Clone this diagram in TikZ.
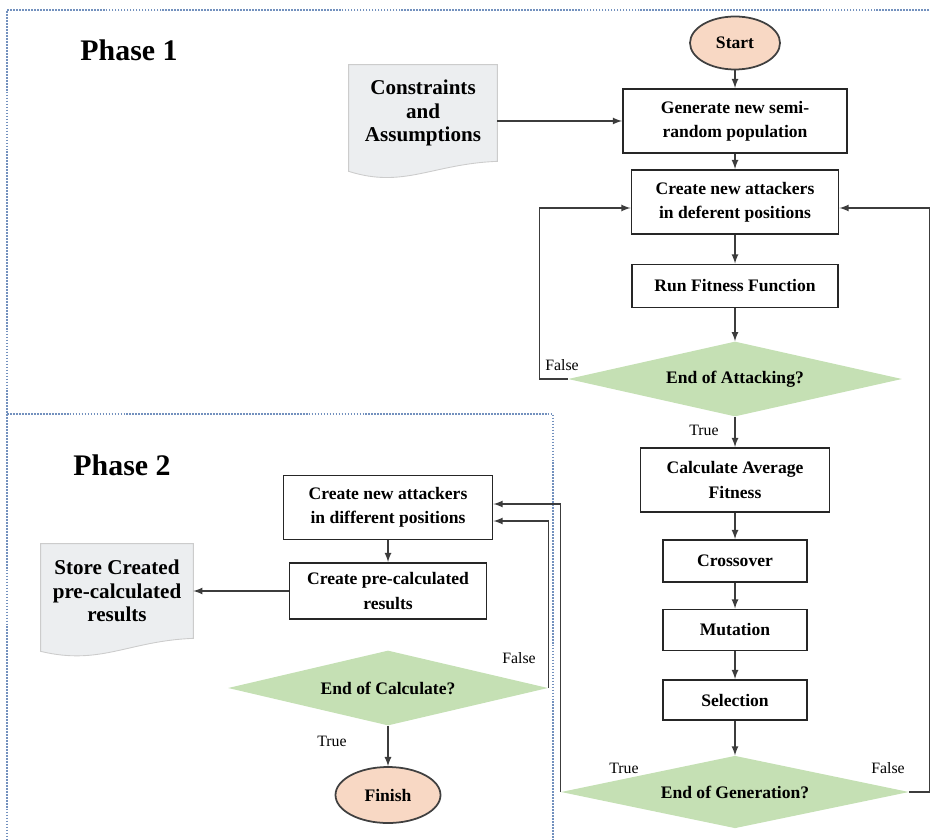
\documentclass[tikz,border=0pt]{standalone}
\usepackage{fontspec}
\setmainfont{Liberation Serif}
\usetikzlibrary{shapes.geometric, arrows.meta, positioning, calc, backgrounds}
\definecolor{peach}{RGB}{248,216,196}
\definecolor{dgreen}{RGB}{197,224,180}
\definecolor{docgray}{RGB}{236,238,240}
\definecolor{framecol}{RGB}{115,145,190}
\definecolor{linecol}{RGB}{60,60,60}
\tikzstyle{block} = [draw=black!85, line width=1.1pt, fill=white, rectangle, align=center, inner sep=1pt, font=\bfseries\fontsize{10}{13.7}\selectfont]
\tikzstyle{decision} = [diamond, fill=dgreen, aspect=4, inner sep=0pt, font=\bfseries\fontsize{10}{12}\selectfont]
\tikzstyle{term} = [ellipse, draw=black!75, line width=1pt, fill=peach, inner sep=0pt, font=\bfseries\fontsize{10}{12}\selectfont]
\tikzstyle{doc} = [rectangle, align=center, inner sep=0pt, font=\bfseries\fontsize{12}{13.4}\selectfont]
\tikzstyle{docshape} = [fill=docgray, draw=black!20, line width=0.5pt]
\tikzstyle{lbl} = [inner sep=0pt, font=\fontsize{9}{10}\selectfont]
\tikzstyle{phase} = [inner sep=0pt, font=\bfseries\fontsize{17}{20}\selectfont]
\tikzstyle{frame} = [draw=framecol, line width=0.6pt, dash pattern=on 1pt off 0.7pt]
\tikzstyle{conn} = [draw=linecol, line width=0.8pt, ->]

\begin{document}
\begin{tikzpicture}[node distance=1.6cm,>=latex]
    \useasboundingbox (0,0) rectangle (18.6,-16.78);
    % phase frames
    \draw[frame] (18.7,-0.2) -- (0.14,-0.2) -- (0.14,-16.9);
    \draw[frame] (0.14,-8.28) -- (11.06,-8.28) -- (11.06,-16.9);
    \node[phase] (ph1) at (2.58,-1.0) {Phase 1};
    \node[phase] (ph2) at (2.44,-9.3) {Phase 2};
    % phase 1
    \node[term, minimum width=1.8cm, minimum height=1.06cm] (start) at (14.7,-0.86) {Start};
    \node[block, below of=start, node distance=1.56cm, minimum width=4.48cm, minimum height=1.28cm] (gen) {Generate new semi-\\random population};
    \node[block, below of=gen, node distance=1.62cm, minimum width=4.14cm, minimum height=1.28cm] (create) {Create new attackers\\in deferent positions};
    \node[block, below of=create, node distance=1.68cm, minimum width=4.12cm, minimum height=0.86cm] (run) {Run Fitness Function};
    \node[decision, below of=run, node distance=1.86cm, minimum width=6.68cm, minimum height=1.5cm] (att) {End of Attacking?};
    \node[block, below of=att, node distance=2.02cm, minimum width=3.78cm, minimum height=1.28cm] (calc) {Calculate Average\\Fitness};
    \node[block, below of=calc, node distance=1.62cm, minimum width=2.88cm, minimum height=0.84cm] (cross) {Crossover};
    \node[block, below of=cross, node distance=1.38cm, minimum width=2.88cm, minimum height=0.82cm] (mut) {Mutation};
    \node[block, below of=mut, node distance=1.4cm, minimum width=2.88cm, minimum height=0.8cm] (sel) {Selection};
    \node[decision, below of=sel, node distance=1.84cm, minimum width=6.96cm, minimum height=1.45cm] (endgen) {End of Generation?};
    \node[doc, minimum width=2.96cm, minimum height=1.92cm] (cons) at (8.46,-2.26) {Constraints\\and\\Assumptions};
    % phase 2
    \node[block, minimum width=4.18cm, minimum height=1.28cm] (pcreate) at (7.76,-10.15) {Create new attackers\\in different positions};
    \node[block, below of=pcreate, node distance=1.67cm, minimum width=3.94cm, minimum height=1.12cm] (pcalc) {Create pre-calculated\\results};
    \node[decision, below of=pcalc, node distance=1.94cm, minimum width=6.4cm, minimum height=1.5cm] (endcalc) {End of Calculate?};
    \node[term, below of=endcalc, node distance=2.14cm, minimum width=2.1cm, minimum height=1.12cm] (finish) {Finish};
    \node[doc, left of=pcalc, node distance=5.42cm, minimum width=3.04cm, minimum height=1.88cm] (store) {Store Created\\pre-calculated\\results};
    \begin{pgfonlayer}{background}
        \draw[docshape] (cons.north west) -- (cons.north east) -- (cons.south east) .. controls ($(cons.south east)+(-1.3,-0.05)$) and ($(cons.south west)+(1.1,-0.55)$) .. ($(cons.south west)+(0,-0.2)$) -- cycle;
        \draw[docshape] (store.north west) -- (store.north east) -- (store.south east) .. controls ($(store.south east)+(-1.3,-0.05)$) and ($(store.south west)+(1.2,-0.55)$) .. ($(store.south west)+(0,-0.26)$) -- cycle;
    \end{pgfonlayer}
    % labels
    \node[lbl] (lf1) at (11.24,-7.3) {False};
    \node[lbl] (lt1) at (14.08,-8.6) {True};
    \node[lbl] (lt2) at (12.48,-15.36) {True};
    \node[lbl] (lf2) at (17.76,-15.36) {False};
    \node[lbl] (lf3) at (10.38,-13.16) {False};
    \node[lbl] (lt3) at (6.64,-14.82) {True};
    % connectors
    \draw[conn] (start) -- (gen);
    \draw[conn] (cons.east |- gen.west) -- (gen.west);
    \draw[conn] (gen) -- (create);
    \draw[conn] (create) -- (run);
    \draw[conn] (run) -- (att);
    \draw[conn] (att.west) -- ++(-0.56,0) |- ([yshift=-0.12cm]create.west);
    \draw[conn] (att) -- (calc);
    \draw[conn] (calc) -- (cross);
    \draw[conn] (cross) -- (mut);
    \draw[conn] (mut) -- (sel);
    \draw[conn] (sel) -- (endgen);
    \draw[conn] (endgen.east) -- ++(0.4,0) |- ([yshift=-0.12cm]create.east);
    \draw[conn] (endgen.west) |- ([yshift=0.07cm]pcreate.east);
    \draw[conn] (endcalc.east) |- ([yshift=-0.27cm]pcreate.east);
    \draw[conn] (pcreate) -- (pcalc);
    \draw[conn] (pcalc.west) -- (pcalc.west -| store.east);
    \draw[conn] (endcalc) -- (finish);
\end{tikzpicture}
\end{document}
